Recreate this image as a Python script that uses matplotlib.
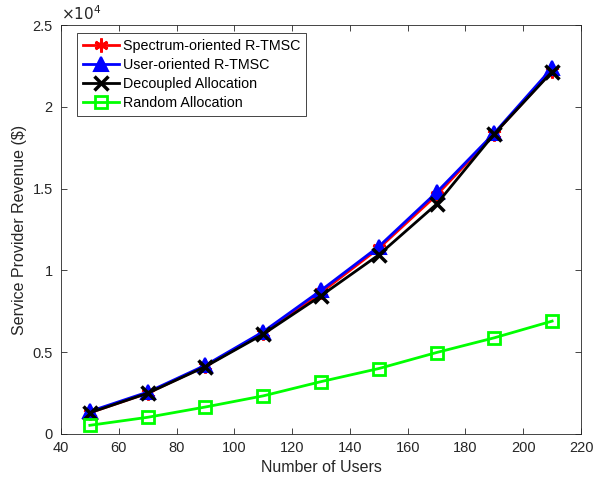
import numpy as np
import matplotlib
matplotlib.use('Agg')
import matplotlib.pyplot as plt
from matplotlib.ticker import FuncFormatter

plt.rcParams['font.family'] = ['Liberation Sans', 'DejaVu Sans']

users = [50, 70, 90, 110, 130, 150, 170, 190, 210]
spectrum_rtmsc = [1300, 2500, 4150, 6150, 8650, 11350, 14600, 18350, 22200]
user_rtmsc = [1380, 2560, 4200, 6250, 8780, 11460, 14770, 18400, 22380]
decoupled = [1300, 2490, 4120, 6100, 8450, 10950, 14050, 18350, 22150]
random_alloc = [530, 1020, 1650, 2330, 3200, 4000, 4980, 5880, 6900]

fig = plt.figure(figsize=(5.95, 4.88), dpi=100)
ax = fig.add_axes([0.1025, 0.1107, 0.874, 0.838])

# asterisk-style marker: six thin spokes
ax.plot(users, spectrum_rtmsc, '-', marker=(6, 2, 0), color='red', lw=2,
        ms=10, mew=2, label='Spectrum-oriented R-TMSC')
ax.plot(users, user_rtmsc, '-^', color='blue', lw=2, ms=10, mew=1.5,
        mfc='blue', label='User-oriented R-TMSC')
ax.plot(users, decoupled, '-x', color='black', lw=2, ms=10, mew=2.5,
        label='Decoupled Allocation')
ax.plot(users, random_alloc, '-s', color='#00ff00', lw=2, ms=8, mew=2,
        mfc='none', label='Random Allocation')

ax.set_xlim(40, 220)
ax.set_ylim(0, 25000)
ax.set_xticks(np.arange(40, 221, 20))
ax.set_yticks(np.arange(0, 25001, 5000))
ax.yaxis.set_major_formatter(FuncFormatter(lambda v, p: '%g' % (v / 1e4)))

axcol = '#262626'
for s in ax.spines.values():
    s.set_color(axcol)
    s.set_linewidth(0.6)
ax.tick_params(direction='in', top=True, right=True, length=4,
               width=0.6, colors=axcol, labelsize=10.5, labelcolor=axcol)
ax.tick_params(axis='y', pad=6)
ax.tick_params(axis='x', pad=5)

ax.text(0, 1.005, r'$\times 10^4$', transform=ax.transAxes, fontsize=11,
        color=axcol, ha='left', va='bottom')

ax.set_xlabel('Number of Users', fontsize=11.5, color=axcol)
ax.set_ylabel('Service Provider Revenue ($)', fontsize=11.5, color=axcol)

leg = ax.legend(loc='upper left', bbox_to_anchor=(0.031, 0.98), fontsize=10.3,
                fancybox=False, edgecolor=axcol, framealpha=1,
                handlelength=2.5, borderpad=0.4, labelspacing=0.35,
                handletextpad=0.3, borderaxespad=0)
leg.get_frame().set_linewidth(0.6)

fig.savefig('out.png', dpi=100)
